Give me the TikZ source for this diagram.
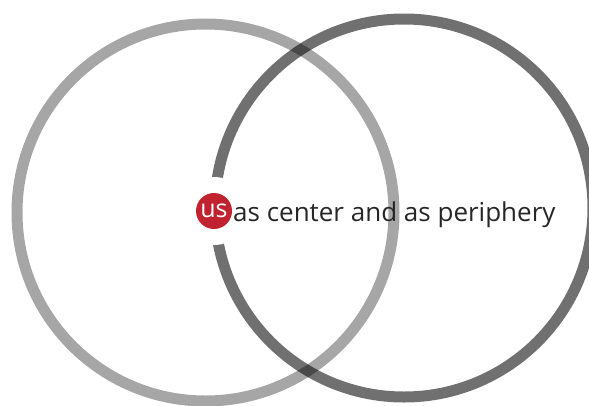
\documentclass[tikz,border=0pt]{standalone}
\usepackage{fontspec}
\setmainfont{Open Sans}
\usetikzlibrary{positioning}
\definecolor{usred}{HTML}{C1222F}
\tikzset{
  ring/.style={draw=black, line width=11pt},
  label text/.style={inner sep=0pt, text=black!85, font=\fontsize{26}{29}\selectfont}
}
\begin{document}
\begin{tikzpicture}[x=1pt, y=-1pt]
				\useasboundingbox (0, 0) rectangle (589, 405);
				\coordinate (L) at (205.5, 212.5);
				\coordinate (R) at (404, 208);
				\draw[ring, draw opacity=0.35] (L) circle (188.5);
				\draw[ring, draw opacity=0.56] (R) circle (189);
				\fill[white] (214, 211) circle (34);
				\node[circle, fill=usred, minimum size=36pt, inner sep=0pt, text=white, font=\fontsize{25}{27}\selectfont] (us) at (214, 211) {\raisebox{1pt}{us}};
				\node[label text, anchor=base west] (txt) at (233, 221) {as center and as periphery};
			\end{tikzpicture}
\end{document}
